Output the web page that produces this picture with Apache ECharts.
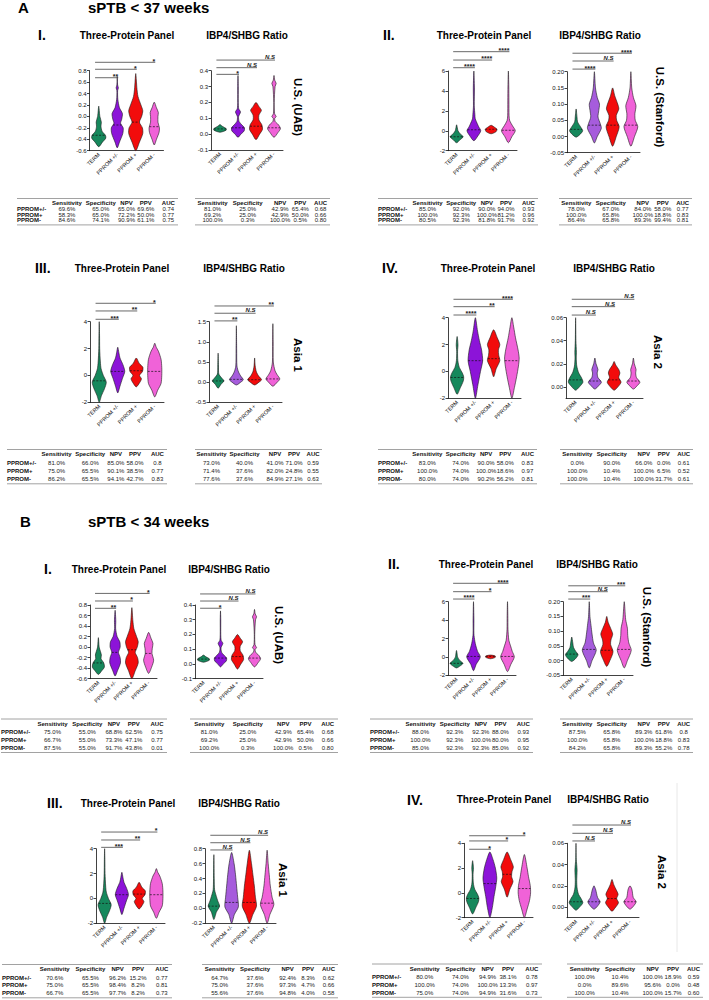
<!DOCTYPE html>
<html>
<head>
<meta charset="utf-8">
<script src="https://cdn.jsdelivr.net/npm/echarts@6.0.0/dist/echarts.min.js"></script>
<style>
html, body { margin: 0; padding: 0; background: #fff; }
#chart { width: 709px; height: 1000px; }
</style>
</head>
<body>
<div id="chart"></div>
<script>
// ---------- data ----------
const categories = ['TERM', 'PPROM +/-', 'PPROM +', 'PPROM -'];
const tableHeader = ['Sensitivity', 'Specificity', 'NPV', 'PPV', 'AUC'];
const tableRowNames = ['PPROM+/-', 'PPROM+', 'PPROM-'];

// violin profiles: [value, relative half width], bottom to top
// A I  (sPTB < 37, U.S. UAB)
const aI_panel = [
  [[-0.53,0],[-0.45,0.5],[-0.38,0.95],[-0.33,0.9],[-0.26,0.45],[-0.17,0.3],[-0.1,0.35],[0,0.15],[0.18,0]],
  [[-0.55,0],[-0.45,0.3],[-0.3,0.75],[-0.2,0.8],[-0.12,0.45],[-0.05,0.6],[0.05,0.7],[0.15,0.3],[0.3,0.08],[0.45,0.05],[0.5,0.15],[0.55,0.05],[0.7,0]],
  [[-0.6,0],[-0.45,0.5],[-0.3,0.95],[-0.2,0.9],[-0.1,0.5],[0,0.8],[0.1,0.95],[0.2,0.7],[0.35,0.3],[0.5,0.15],[0.6,0.1],[0.75,0]],
  [[-0.5,0],[-0.4,0.3],[-0.28,0.65],[-0.2,0.7],[-0.1,0.5],[0,0.5],[0.07,0.55],[0.15,0.3],[0.25,0]]
];
const aI_panelMed = [-0.33, -0.15, -0.1, -0.18];
const aI_panelSig = [[1, 0.677, '**'], [2, 0.825, '*'], [3, 0.947, '*']];
const aI_ratio = [
  [[0.012,0],[0.025,0.85],[0.035,0.85],[0.05,0.3],[0.06,0]],
  [[-0.02,0],[0,0.4],[0.02,0.85],[0.04,0.9],[0.06,0.5],[0.08,0.15],[0.11,0.08],[0.14,0.35],[0.16,0.1],[0.2,0.04],[0.3,0.04],[0.37,0]],
  [[-0.035,0],[0,0.5],[0.03,0.9],[0.06,0.8],[0.09,0.4],[0.12,0.4],[0.15,0.75],[0.175,0.4],[0.2,0]],
  [[-0.02,0],[0.01,0.55],[0.035,0.9],[0.06,0.6],[0.08,0.15],[0.1,0.1],[0.11,0.3],[0.13,0.08],[0.2,0.03],[0.3,0.15],[0.32,0.3],[0.34,0.1],[0.37,0]]
];
const aI_ratioMed = [0.033, 0.04, 0.05, 0.04];
const aI_ratioSig = [[1, 0.377, '*'], [2, 0.419, 'N.S'], [3, 0.467, 'N.S']];
const aI_panelStats = [
  ['69.6%', '65.0%', '65.0%', '69.6%', '0.74'],
  ['58.3%', '65.0%', '72.2%', '50.0%', '0.77'],
  ['84.6%', '74.1%', '90.9%', '61.1%', '0.75']
];
const aI_ratioStats = [
  ['81.0%', '25.0%', '42.9%', '65.4%', '0.68'],
  ['69.2%', '25.0%', '42.9%', '50.0%', '0.66'],
  ['100.0%', '0.3%', '100.0%', '0.5%', '0.80']
];

// A II  (sPTB < 37, U.S. Stanford)
const aII_panel = [
  [[-1.2,0],[-0.9,0.5],[-0.6,0.95],[-0.3,0.5],[0,0.2],[0.3,0.1],[0.6,0]],
  [[-1,0],[-0.5,0.6],[0,1],[0.4,0.7],[0.7,0.5],[1.2,0.2],[1.6,0.15],[2.5,0.06],[4.3,0.08],[6,0]],
  [[-0.3,0],[-0.1,0.7],[0.15,0.85],[0.35,0.5],[0.55,0]],
  [[-1.2,0],[-0.6,0.5],[0,1],[0.5,0.6],[1,0.2],[1.5,0.1],[3,0.08],[4.5,0.06],[6,0]]
];
const aII_panelMed = [-0.6, 0.1, 0.15, 0.05];
const aII_panelSig = [[1, 6.33, '****'], [2, 7.1, '****'], [3, 7.94, '****']];
const aII_ratio = [
  [[-0.002,0],[0.008,0.6],[0.018,0.9],[0.03,0.6],[0.045,0.2],[0.06,0.12],[0.085,0]],
  [[-0.02,0],[0,0.4],[0.025,0.95],[0.04,0.8],[0.06,0.5],[0.08,0.6],[0.1,0.7],[0.12,0.4],[0.15,0.15],[0.2,0]],
  [[-0.03,0],[0,0.5],[0.03,0.9],[0.05,0.55],[0.065,0.5],[0.085,0.85],[0.1,0.7],[0.125,0.3],[0.15,0]],
  [[-0.03,0],[0,0.5],[0.03,0.95],[0.05,0.6],[0.07,0.55],[0.095,0.7],[0.12,0.35],[0.15,0.12],[0.2,0]]
];
const aII_ratioMed = [0.022, 0.035, 0.035, 0.035];
const aII_ratioSig = [[1, 0.208, '****'], [2, 0.233, 'N.S'], [3, 0.257, '****']];
const aII_panelStats = [
  ['85.0%', '92.0%', '90.0%', '94.0%', '0.93'],
  ['100.0%', '92.3%', '100.0%', '81.2%', '0.96'],
  ['80.5%', '92.3%', '81.8%', '91.7%', '0.92']
];
const aII_ratioStats = [
  ['78.0%', '67.0%', '84.0%', '58.0%', '0.77'],
  ['100.0%', '65.8%', '100.0%', '18.8%', '0.83'],
  ['86.4%', '65.8%', '89.3%', '99.4%', '0.81']
];

// A III  (sPTB < 37, Asia 1)
const aIII_panel = [
  [[-2,0],[-1.5,0.3],[-1,0.7],[-0.5,0.95],[0,0.55],[0.5,0.25],[1,0.15],[2,0.06],[3,0.04],[4,0]],
  [[-1.3,0],[-0.8,0.3],[-0.2,0.65],[0.3,0.95],[0.8,0.7],[1.3,0.3],[1.7,0.15],[2.1,0]],
  [[-0.85,0],[-0.5,0.5],[-0.25,0.7],[0,0.45],[0.3,0.85],[0.6,0.9],[0.9,0.4],[1.3,0]],
  [[-1.6,0],[-1.1,0.4],[-0.6,0.85],[0,0.95],[0.6,0.95],[1.2,0.85],[1.8,0.5],[2.1,0.2],[2.4,0]]
];
const aIII_panelMed = [-0.4, 0.3, 0.35, 0.3];
const aIII_panelSig = [[1, 4.18, '***'], [2, 4.8, '**'], [3, 5.37, '*']];
const aIII_ratio = [
  [[-0.15,0],[-0.05,0.4],[0.03,0.8],[0.1,0.5],[0.2,0.1],[0.4,0.05],[0.72,0]],
  [[-0.07,0],[0,0.6],[0.06,0.95],[0.15,0.6],[0.25,0.3],[0.4,0.08],[0.8,0.04],[1.4,0]],
  [[-0.07,0],[0,0.6],[0.06,0.95],[0.15,0.55],[0.25,0.25],[0.4,0.08],[0.6,0]],
  [[-0.1,0],[0,0.6],[0.08,0.95],[0.18,0.6],[0.28,0.3],[0.5,0.06],[1,0.04],[1.45,0]]
];
const aIII_ratioMed = [0.03, 0.07, 0.06, 0.08];
const aIII_ratioSig = [[1, 1.52, '**'], [2, 1.71, 'N.S'], [3, 1.89, '**']];
const aIII_panelStats = [
  ['81.0%', '66.0%', '85.0%', '58.0%', '0.8'],
  ['75.0%', '65.5%', '90.1%', '38.5%', '0.77'],
  ['86.2%', '65.5%', '94.1%', '42.7%', '0.83']
];
const aIII_ratioStats = [
  ['73.0%', '40.0%', '41.0%', '71.0%', '0.59'],
  ['71.4%', '37.6%', '82.0%', '24.8%', '0.55'],
  ['77.6%', '37.6%', '84.9%', '27.1%', '0.63']
];

// A IV  (sPTB < 37, Asia 2)
const aIV_panel = [
  [[-1.7,0],[-1.2,0.45],[-0.7,0.85],[-0.4,0.9],[-0.1,0.7],[0.3,0.3],[0.8,0.1],[1.5,0.06],[2,0.12],[2.6,0]],
  [[-2,0],[-1,0.35],[0,0.7],[0.8,1],[1.6,0.85],[2.3,0.55],[3,0.3],[4,0]],
  [[-0.4,0],[0.2,0.35],[0.8,0.85],[1.2,0.7],[1.6,0.65],[2,0.85],[2.5,0.5],[3.1,0]],
  [[-2,0],[-1.2,0.35],[-0.4,0.65],[0.4,0.9],[1,1],[1.6,0.85],[2.5,0.5],[3.3,0.25],[4,0]]
];
const aIV_panelMed = [-0.45, 0.8, 0.95, 0.8];
const aIV_panelSig = [[1, 4.2, '****'], [2, 4.82, '**'], [3, 5.37, '****']];
const aIV_ratio = [
  [[-0.003,0],[0,0.5],[0.004,0.95],[0.008,0.75],[0.012,0.4],[0.018,0.15],[0.025,0.08],[0.03,0.1],[0.04,0.04],[0.06,0]],
  [[-0.002,0],[0.001,0.5],[0.004,0.85],[0.008,0.4],[0.012,0.3],[0.015,0.4],[0.02,0.15],[0.025,0]],
  [[-0.003,0],[0,0.5],[0.004,0.9],[0.008,0.6],[0.012,0.75],[0.015,0.6],[0.019,0.2],[0.022,0]],
  [[-0.002,0],[0.001,0.5],[0.004,0.85],[0.008,0.4],[0.012,0.3],[0.015,0.35],[0.02,0.12],[0.025,0]]
];
const aIV_ratioMed = [0.006, 0.005, 0.006, 0.005];
const aIV_ratioSig = [[1, 0.0623, 'N.S'], [2, 0.0696, 'N.S'], [3, 0.076, 'N.S']];
const aIV_panelStats = [
  ['83.0%', '74.0%', '90.0%', '58.0%', '0.83'],
  ['100.0%', '74.0%', '100.0%', '18.6%', '0.97'],
  ['80.0%', '74.0%', '90.2%', '56.2%', '0.81']
];
const aIV_ratioStats = [
  ['0.0%', '90.0%', '66.0%', '0.0%', '0.61'],
  ['100.0%', '10.4%', '100.0%', '6.5%', '0.52'],
  ['100.0%', '10.4%', '100.0%', '31.7%', '0.61']
];

// B I  (sPTB < 34, U.S. UAB)
const bI_panel = [
  [[-0.52,0],[-0.45,0.5],[-0.38,0.9],[-0.3,0.8],[-0.22,0.4],[-0.15,0.45],[-0.08,0.3],[0,0.12],[0.18,0]],
  [[-0.55,0],[-0.45,0.35],[-0.3,0.8],[-0.2,0.75],[-0.1,0.5],[0,0.75],[0.1,0.7],[0.2,0.3],[0.35,0.08],[0.5,0.1],[0.7,0]],
  [[-0.6,0],[-0.45,0.5],[-0.3,0.95],[-0.2,0.85],[-0.1,0.5],[0,0.8],[0.1,0.95],[0.2,0.7],[0.35,0.3],[0.5,0.15],[0.75,0]],
  [[-0.5,0],[-0.38,0.45],[-0.25,0.75],[-0.12,0.5],[-0.02,0.55],[0.07,0.65],[0.17,0.35],[0.28,0]]
];
const bI_panelMed = [-0.3, -0.1, -0.05, -0.12];
const bI_panelSig = [[1, 0.737, '**'], [2, 0.876, '*'], [3, 1.02, '*']];
const bI_ratio = [
  [[0.012,0],[0.025,0.85],[0.035,0.85],[0.05,0.3],[0.06,0]],
  [[-0.02,0],[0,0.4],[0.02,0.85],[0.04,0.9],[0.06,0.5],[0.08,0.15],[0.11,0.08],[0.14,0.35],[0.16,0.1],[0.2,0.04],[0.3,0.04],[0.36,0]],
  [[-0.035,0],[0,0.5],[0.03,0.9],[0.06,0.8],[0.09,0.4],[0.12,0.4],[0.15,0.75],[0.175,0.4],[0.2,0]],
  [[-0.02,0],[0.01,0.55],[0.035,0.9],[0.06,0.6],[0.08,0.15],[0.1,0.1],[0.11,0.3],[0.13,0.08],[0.2,0.03],[0.3,0.15],[0.32,0.3],[0.34,0.1],[0.37,0]]
];
const bI_ratioMed = [0.033, 0.04, 0.05, 0.04];
const bI_ratioSig = [[1, 0.378, '*'], [2, 0.427, 'N.S'], [3, 0.475, 'N.S']];
const bI_panelStats = [
  ['75.0%', '55.0%', '68.8%', '62.5%', '0.75'],
  ['66.7%', '55.0%', '73.3%', '47.1%', '0.77'],
  ['87.5%', '55.0%', '91.7%', '43.8%', '0.01']
];
const bI_ratioStats = [
  ['81.0%', '25.0%', '42.9%', '65.4%', '0.68'],
  ['69.2%', '25.0%', '42.9%', '50.0%', '0.66'],
  ['100.0%', '0.3%', '100.0%', '0.5%', '0.80']
];

// B II  (sPTB < 34, U.S. Stanford)
const bII_panel = [
  [[-1.2,0],[-1,0.5],[-0.7,0.95],[-0.4,0.5],[0,0.15],[0.4,0.08],[0.7,0]],
  [[-1.5,0],[-0.8,0.4],[0,1],[0.6,0.6],[1.2,0.35],[1.7,0.2],[2.5,0.06],[4,0.06],[6,0]],
  [[-0.2,0],[-0.05,0.7],[0.1,0.7],[0.2,0]],
  [[-1.6,0],[-0.8,0.5],[0,1],[0.6,0.7],[1.2,0.45],[1.8,0.2],[3,0.07],[4.5,0.05],[6,0]]
];
const bII_panelMed = [-0.7, 0.05, 0.05, 0.05];
const bII_panelSig = [[1, 6.29, '****'], [2, 7.09, '*'], [3, 8.0, '****']];
const bII_ratio = [
  [[-0.003,0],[0.008,0.6],[0.02,0.9],[0.032,0.55],[0.045,0.25],[0.06,0.15],[0.08,0]],
  [[-0.025,0],[0,0.4],[0.035,1],[0.06,0.6],[0.09,0.4],[0.12,0.25],[0.15,0.1],[0.2,0]],
  [[-0.02,0],[0,0.45],[0.03,0.9],[0.055,0.55],[0.07,0.6],[0.09,0.85],[0.11,0.55],[0.13,0.2],[0.15,0]],
  [[-0.025,0],[0,0.45],[0.035,1],[0.06,0.65],[0.085,0.5],[0.11,0.45],[0.14,0.2],[0.2,0]]
];
const bII_ratioMed = [0.022, 0.038, 0.035, 0.038];
const bII_ratioSig = [[1, 0.209, '***'], [2, 0.234, 'N.S'], [3, 0.254, '***']];
const bII_panelStats = [
  ['88.0%', '92.3%', '92.3%', '88.0%', '0.93'],
  ['100.0%', '92.3%', '100.0%', '80.0%', '0.95'],
  ['85.0%', '92.3%', '92.3%', '85.0%', '0.92']
];
const bII_ratioStats = [
  ['87.5%', '65.8%', '89.3%', '61.8%', '0.8'],
  ['100.0%', '65.8%', '100.0%', '18.8%', '0.83'],
  ['84.2%', '65.8%', '89.3%', '55.2%', '0.78']
];

// B III  (sPTB < 34, Asia 1)
const bIII_panel = [
  [[-2,0],[-1.5,0.3],[-1,0.7],[-0.5,0.95],[0,0.55],[0.5,0.25],[1,0.15],[2,0.06],[3,0.04],[4,0]],
  [[-1.3,0],[-0.8,0.3],[-0.2,0.65],[0.3,0.95],[0.8,0.7],[1.3,0.3],[1.7,0.15],[2.1,0]],
  [[-0.85,0],[-0.5,0.5],[-0.25,0.7],[0,0.45],[0.3,0.85],[0.6,0.9],[0.9,0.4],[1.3,0]],
  [[-1.6,0],[-1.1,0.4],[-0.6,0.85],[0,0.95],[0.6,0.95],[1.2,0.85],[1.8,0.5],[2.1,0.2],[2.4,0]]
];
const bIII_panelMed = [-0.4, 0.3, 0.35, 0.3];
const bIII_panelSig = [[1, 4.11, '***'], [2, 4.7, '**'], [3, 5.34, '*']];
const bIII_ratio = [
  [[-0.15,0],[-0.05,0.35],[0.03,0.8],[0.1,0.55],[0.16,0.35],[0.25,0.1],[0.4,0.05],[0.72,0]],
  [[-0.2,0],[-0.08,0.4],[0.02,0.95],[0.15,0.85],[0.3,0.7],[0.45,0.55],[0.6,0.35],[0.75,0]],
  [[-0.2,0],[-0.08,0.5],[0.03,1],[0.15,0.85],[0.3,0.7],[0.45,0.5],[0.6,0.3],[0.78,0]],
  [[-0.2,0],[-0.08,0.4],[0.05,0.95],[0.15,0.7],[0.3,0.45],[0.45,0.3],[0.6,0.15],[0.78,0]]
];
const bIII_ratioMed = [0.03, 0.08, 0.08, 0.07];
const bIII_ratioSig = [[1, 0.783, 'N.S'], [2, 0.88, 'N.S'], [3, 0.98, 'N.S']];
const bIII_panelStats = [
  ['70.6%', '65.5%', '96.2%', '15.2%', '0.77'],
  ['75.0%', '65.5%', '98.4%', '8.2%', '0.81'],
  ['66.7%', '65.5%', '97.7%', '8.2%', '0.73']
];
const bIII_ratioStats = [
  ['64.7%', '37.6%', '92.4%', '8.3%', '0.62'],
  ['75.0%', '37.6%', '97.3%', '4.7%', '0.66'],
  ['55.6%', '37.6%', '94.8%', '4.0%', '0.58']
];

// B IV  (sPTB < 34, Asia 2)
const bIV_panel = [
  [[-1.7,0],[-1.2,0.45],[-0.7,0.85],[-0.4,0.9],[-0.1,0.7],[0.3,0.3],[0.8,0.1],[1.5,0.06],[2,0.12],[2.6,0]],
  [[-2,0],[-1.2,0.35],[-0.3,0.6],[0.5,0.85],[1.2,1],[2,0.8],[2.7,0.45],[3.3,0]],
  [[-0.35,0],[0.3,0.4],[0.9,0.85],[1.3,0.65],[1.7,0.7],[2.1,0.9],[2.7,0.5],[3.3,0]],
  [[-2,0],[-1.3,0.4],[-0.6,0.75],[0,0.9],[0.6,0.85],[1.3,0.6],[2,0.4],[3.1,0]]
];
const bIV_panelMed = [-0.45, 0.75, 1.5, 0.35];
const bIV_panelSig = [[1, 3.52, '*'], [2, 4.19, '*'], [3, 4.61, '*']];
const bIV_ratio = [
  [[-0.003,0],[0,0.5],[0.004,0.95],[0.008,0.7],[0.012,0.35],[0.018,0.15],[0.025,0.1],[0.035,0.15],[0.045,0.04],[0.06,0]],
  [[-0.002,0],[0.001,0.5],[0.005,0.85],[0.009,0.5],[0.013,0.35],[0.016,0.25],[0.02,0]],
  [[-0.004,0],[-0.001,0.4],[0.004,0.9],[0.008,0.65],[0.012,0.85],[0.016,0.6],[0.021,0.25],[0.026,0]],
  [[-0.002,0],[0.001,0.5],[0.005,0.85],[0.009,0.45],[0.013,0.35],[0.017,0.25],[0.02,0]]
];
const bIV_ratioMed = [0.005, 0.005, 0.008, 0.005];
const bIV_ratioSig = [[1, 0.0622, 'N.S'], [2, 0.0694, 'N.S'], [3, 0.0772, 'N.S']];
const bIV_panelStats = [
  ['80.0%', '74.0%', '94.9%', '38.1%', '0.78'],
  ['100.0%', '74.0%', '100.0%', '13.3%', '0.97'],
  ['75.0%', '74.0%', '94.9%', '31.6%', '0.73']
];
const bIV_ratioStats = [
  ['100.0%', '10.4%', '100.0%', '18.9%', '0.59'],
  ['0.0%', '89.6%', '95.6%', '0.0%', '0.48'],
  ['100.0%', '10.4%', '100.0%', '15.7%', '0.60']
];

// ---------- layout and style ----------
const FONT = 'Liberation Sans, Arial, Helvetica, sans-serif';
const GREEN = '#16885c', PURPLE = '#8c14d8', LILAC = '#a65cdc', RED = '#f20c0c', PINK = '#f062d8';
const darkSet = [GREEN, PURPLE, RED, PINK];
const lightSet = [GREEN, LILAC, RED, PINK];

const plots = [
  { v: aI_panel, med: aI_panelMed, sig: aI_panelSig, left: 89.5, top: 70.7, width: 74, height: 80, min: -0.6, max: 0.8, step: 0.2, dec: 1, col: darkSet },
  { v: aI_ratio, med: aI_ratioMed, sig: aI_ratioSig, left: 211, top: 70.7, width: 72, height: 79.3, min: -0.1, max: 0.4, step: 0.1, dec: 1, col: darkSet },
  { v: aII_panel, med: aII_panelMed, sig: aII_panelSig, left: 448, top: 71, width: 69, height: 79.7, min: -2, max: 6, step: 2, dec: 0, col: darkSet },
  { v: aII_ratio, med: aII_ratioMed, sig: aII_ratioSig, left: 567, top: 71.7, width: 73, height: 81, min: -0.05, max: 0.2, step: 0.05, dec: 2, col: lightSet },
  { v: aIII_panel, med: aIII_panelMed, sig: aIII_panelSig, left: 90, top: 321.7, width: 74, height: 80.6, min: -2, max: 4, step: 2, dec: 0, col: darkSet },
  { v: aIII_ratio, med: aIII_ratioMed, sig: aIII_ratioSig, left: 209, top: 321.7, width: 73, height: 80.6, min: -0.5, max: 1.5, step: 0.5, dec: 1, col: lightSet },
  { v: aIV_panel, med: aIV_panelMed, sig: aIV_panelSig, left: 448, top: 317.7, width: 73, height: 80.6, min: -2, max: 4, step: 2, dec: 0, col: darkSet },
  { v: aIV_ratio, med: aIV_ratioMed, sig: aIV_ratioSig, left: 566, top: 317.7, width: 77, height: 80.6, min: -0.01, max: 0.06, ticks: [0, 0.02, 0.04, 0.06], dec: 2, col: lightSet },
  { v: bI_panel, med: bI_panelMed, sig: bI_panelSig, left: 90, top: 605, width: 67, height: 73.7, min: -0.6, max: 0.8, step: 0.2, dec: 1, col: darkSet },
  { v: bI_ratio, med: bI_ratioMed, sig: bI_ratioSig, left: 195, top: 605, width: 68, height: 73.7, min: -0.1, max: 0.4, step: 0.1, dec: 1, col: darkSet },
  { v: bII_panel, med: bII_panelMed, sig: bII_panelSig, left: 448, top: 601.7, width: 68, height: 73.6, min: -2, max: 6, step: 2, dec: 0, col: darkSet },
  { v: bII_ratio, med: bII_ratioMed, sig: bII_ratioSig, left: 563, top: 601.7, width: 70, height: 73.6, min: -0.05, max: 0.2, step: 0.05, dec: 2, col: lightSet },
  { v: bIII_panel, med: bIII_panelMed, sig: bIII_panelSig, left: 96, top: 848.7, width: 69, height: 74.6, min: -2, max: 4, step: 2, dec: 0, col: darkSet },
  { v: bIII_ratio, med: bIII_ratioMed, sig: bIII_ratioSig, left: 205, top: 848.7, width: 71, height: 74.6, min: -0.2, max: 0.8, step: 0.2, dec: 1, col: lightSet },
  { v: bIV_panel, med: bIV_panelMed, sig: bIV_panelSig, left: 464, top: 843.3, width: 69, height: 74.4, min: -2, max: 4, step: 2, dec: 0, col: darkSet },
  { v: bIV_ratio, med: bIV_ratioMed, sig: bIV_ratioSig, left: 567, top: 843.3, width: 72, height: 74.4, min: -0.01, max: 0.06, ticks: [0, 0.02, 0.04, 0.06], dec: 2, col: lightSet }
];

const tables = [
  { rows: aI_panelStats, x0: 17, x1: 178, hy: 203, ry: 209, rs: 5.7, names: true },
  { rows: aI_ratioStats, x0: 195, x1: 330, hy: 203, ry: 209, rs: 5.7, names: false },
  { rows: aII_panelStats, x0: 378, x1: 538, hy: 203, ry: 209, rs: 5.7, names: true },
  { rows: aII_ratioStats, x0: 559, x1: 692, hy: 203, ry: 209, rs: 5.7, names: false },
  { rows: aIII_panelStats, x0: 7, x1: 167, hy: 454, ry: 462.7, rs: 8.3, names: true },
  { rows: aIII_ratioStats, x0: 195, x1: 322, hy: 454, ry: 462.7, rs: 8.3, names: false },
  { rows: aIV_panelStats, x0: 378, x1: 537, hy: 454, ry: 462.7, rs: 8.3, names: true },
  { rows: aIV_ratioStats, x0: 560, x1: 693, hy: 454, ry: 462.7, rs: 8.3, names: false },
  { rows: bI_panelStats, x0: 1, x1: 167, hy: 723.5, ry: 732, rs: 8, names: true },
  { rows: bI_ratioStats, x0: 190, x1: 338, hy: 723.5, ry: 732, rs: 8, names: false },
  { rows: bII_panelStats, x0: 370, x1: 533, hy: 723.5, ry: 732, rs: 8, names: true },
  { rows: bII_ratioStats, x0: 560, x1: 693, hy: 723.5, ry: 732, rs: 8, names: false },
  { rows: bIII_panelStats, x0: 2, x1: 172, hy: 969, ry: 977.5, rs: 7.9, names: true },
  { rows: bIII_ratioStats, x0: 202, x1: 338, hy: 969, ry: 977.5, rs: 7.9, names: false },
  { rows: bIV_panelStats, x0: 372, x1: 542, hy: 968.5, ry: 977, rs: 7.9, names: true },
  { rows: bIV_ratioStats, x0: 567, x1: 703, hy: 968.5, ry: 977, rs: 7.9, names: false }
];
const colFracNamed = [0.31, 0.52, 0.68, 0.80, 0.94];
const colFracPlain = [0.13, 0.39, 0.63, 0.78, 0.93];

const sectionHeads = [['A', 18, 7], ['sPTB < 37 weeks', 88, 7], ['B', 20, 521], ['sPTB < 34 weeks', 88, 521]];
const romanHeads = [['I.', 38, 35], ['II.', 383, 35], ['III.', 35, 268], ['IV.', 382, 268],
                    ['I.', 44, 569], ['II.', 388, 564], ['III.', 47, 803], ['IV.', 407, 800]];
const panelHeads = [[127, 35, 247, 35], [484, 35, 600, 35], [122, 268, 244, 268], [488, 268, 614, 268],
                    [119, 569, 229, 569], [486, 564, 597, 564], [128, 803, 239, 803], [504, 799, 608, 799]];
const rowHeads = [['U.S. (UAB)', 298, 107], ['U.S. (Stanford)', 660, 107], ['Asia 1', 298, 355], ['Asia 2', 658, 352],
                  ['U.S. (UAB)', 279, 635], ['U.S. (Stanford)', 647, 627], ['Asia 1', 283, 880], ['Asia 2', 662, 872]];

// ---------- build ----------
function widthAt(prof, v) {
  for (let k = 1; k < prof.length; k++) {
    if (v <= prof[k][0]) {
      const a = prof[k - 1], b = prof[k];
      const t = (v - a[0]) / (b[0] - a[0]);
      return a[1] + t * (b[1] - a[1]);
    }
  }
  return 0;
}

const grids = [], xAxes = [], yAxes = [], series = [];
plots.forEach((p, k) => {
  grids.push({ left: p.left, top: p.top, width: p.width, height: p.height });
  xAxes.push({
    gridIndex: k, type: 'category', data: categories,
    axisLine: { onZero: false, lineStyle: { color: '#111', width: 0.8 } },
    axisTick: { alignWithLabel: true, length: 2, lineStyle: { color: '#111', width: 0.8 } },
    axisLabel: { rotate: 45, fontSize: 5.5, color: '#111', margin: 3, interval: 0, fontFamily: FONT }
  });
  const y = {
    gridIndex: k, type: 'value', min: p.min, max: p.max,
    splitLine: { show: false },
    axisLine: { show: true, lineStyle: { color: '#111', width: 0.8 } },
    axisTick: { show: true, length: 2.5, lineStyle: { color: '#111', width: 0.8 } },
    axisLabel: { fontSize: 6, color: '#111', margin: 3, fontFamily: FONT,
      formatter: v => (Math.abs(v) < 1e-9 ? 0 : v).toFixed(p.dec) }
  };
  if (p.ticks) {
    y.axisLabel.customValues = p.ticks;
    y.axisTick.customValues = p.ticks;
  } else {
    y.interval = p.step;
  }
  yAxes.push(y);

  series.push({
    type: 'custom', xAxisIndex: k, yAxisIndex: k, silent: true,
    encode: { x: 0, y: 1 },
    data: p.med.map((m, i) => [i, m]),
    renderItem: (params, api) => {
      const i = api.value(0);
      const prof = p.v[i];
      const cx = api.coord([i, 0])[0];
      const half = api.size([1, 0])[0] * 0.4;
      const pts = [];
      for (let j = 0; j < prof.length; j++) pts.push([cx + prof[j][1] * half, api.coord([i, prof[j][0]])[1]]);
      for (let j = prof.length - 2; j > 0; j--) pts.push([cx - prof[j][1] * half, api.coord([i, prof[j][0]])[1]]);
      const m = api.value(1);
      const mw = widthAt(prof, m) * half;
      const my = api.coord([i, m])[1];
      return {
        type: 'group', children: [
          { type: 'polygon', shape: { points: pts, smooth: 0.25 }, style: { fill: p.col[i], stroke: '#1a1a1a', lineWidth: 0.6 } },
          { type: 'line', shape: { x1: cx - mw, y1: my, x2: cx + mw, y2: my }, style: { stroke: '#111', lineWidth: 0.7, lineDash: [2, 1.5] } }
        ]
      };
    }
  });

  series.push({
    type: 'custom', xAxisIndex: k, yAxisIndex: k, silent: true,
    encode: { x: 0, y: 1 },
    data: p.sig.map(s => [s[0], s[1]]),
    renderItem: (params, api) => {
      const s = p.sig[params.dataIndex];
      const a = api.coord([0, s[1]]);
      const b = api.coord([s[0], s[1]]);
      const x1 = a[0] - api.size([1, 0])[0] * 0.2;
      const ns = s[2] === 'N.S';
      return {
        type: 'group', children: [
          { type: 'line', shape: { x1: x1, y1: a[1], x2: b[0] + 1, y2: a[1] }, style: { stroke: '#444', lineWidth: 0.8 } },
          { type: 'text', x: b[0] + 1, y: a[1] - (ns ? 3 : 1.1),
            style: { text: s[2], fontSize: ns ? 6 : 7, fontWeight: 'bold', fontStyle: ns ? 'italic' : 'normal',
              fill: '#222', fontFamily: FONT, align: 'right', verticalAlign: 'middle' } }
        ]
      };
    }
  });
});

const graphics = [];
sectionHeads.forEach(h => graphics.push({ type: 'text', x: h[1], y: h[2],
  style: { text: h[0], fontSize: 15, fontWeight: 'bold', fill: '#000', fontFamily: FONT, verticalAlign: 'middle' } }));
romanHeads.forEach(h => graphics.push({ type: 'text', x: h[1], y: h[2],
  style: { text: h[0], fontSize: 14, fontWeight: 'bold', fill: '#000', fontFamily: FONT, verticalAlign: 'middle' } }));
panelHeads.forEach(h => {
  graphics.push({ type: 'text', x: h[0], y: h[1],
    style: { text: 'Three-Protein Panel', fontSize: 10, fontWeight: 'bold', fill: '#000', fontFamily: FONT, align: 'center', verticalAlign: 'middle' } });
  graphics.push({ type: 'text', x: h[2], y: h[3],
    style: { text: 'IBP4/SHBG Ratio', fontSize: 10, fontWeight: 'bold', fill: '#000', fontFamily: FONT, align: 'center', verticalAlign: 'middle' } });
});
rowHeads.forEach(h => graphics.push({ type: 'text', x: h[1], y: h[2], rotation: -Math.PI / 2,
  style: { text: h[0], fontSize: 11.5, fontWeight: 'bold', fill: '#000', fontFamily: FONT, align: 'center', verticalAlign: 'middle' } }));

tables.forEach(t => {
  const w = t.x1 - t.x0;
  const fr = t.names ? colFracNamed : colFracPlain;
  const lastY = t.ry + t.rs * (t.rows.length - 1);
  graphics.push({ type: 'line', shape: { x1: t.x0, y1: t.hy - 4.5, x2: t.x1, y2: t.hy - 4.5 }, style: { stroke: '#8a8a8a', lineWidth: 0.8 } });
  graphics.push({ type: 'line', shape: { x1: t.x0, y1: lastY + 4.5, x2: t.x1, y2: lastY + 4.5 }, style: { stroke: '#8a8a8a', lineWidth: 0.8 } });
  tableHeader.forEach((h, c) => graphics.push({ type: 'text', x: t.x0 + fr[c] * w, y: t.hy,
    style: { text: h, fontSize: 6, fontWeight: 'bold', fill: '#111', fontFamily: FONT, align: 'center', verticalAlign: 'middle' } }));
  t.rows.forEach((r, ri) => {
    const yy = t.ry + ri * t.rs;
    if (t.names) graphics.push({ type: 'text', x: t.x0, y: yy,
      style: { text: tableRowNames[ri], fontSize: 6, fontWeight: 'bold', fill: '#111', fontFamily: FONT, verticalAlign: 'middle' } });
    r.forEach((cell, c) => graphics.push({ type: 'text', x: t.x0 + fr[c] * w, y: yy,
      style: { text: cell, fontSize: 6, fill: '#222', fontFamily: FONT, align: 'center', verticalAlign: 'middle' } }));
  });
});
graphics.push({ type: 'line', shape: { x1: 677, y1: 783, x2: 677, y2: 952 }, style: { stroke: '#e2e2e2', lineWidth: 0.8 } });

const chart = echarts.init(document.getElementById('chart'), null, { renderer: 'svg' });
chart.setOption({
  animation: false,
  backgroundColor: '#fff',
  textStyle: { fontFamily: FONT },
  grid: grids,
  xAxis: xAxes,
  yAxis: yAxes,
  series: series,
  graphic: { elements: graphics }
});
window.addEventListener('resize', () => chart.resize());
</script>
</body>
</html>
